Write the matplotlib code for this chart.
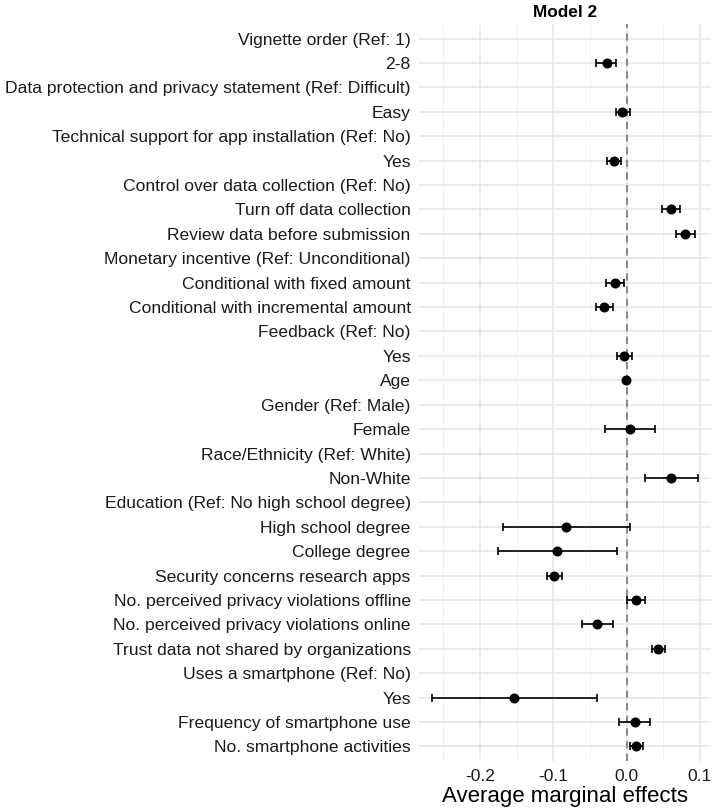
import matplotlib
matplotlib.use("Agg")
import matplotlib.pyplot as plt
import numpy as np

plt.rcParams['font.family'] = ['Liberation Sans', 'DejaVu Sans']

labels = [
    "Vignette order (Ref: 1)",
    "2-8",
    "Data protection and privacy statement (Ref: Difficult)",
    "Easy",
    "Technical support for app installation (Ref: No)",
    "Yes",
    "Control over data collection (Ref: No)",
    "Turn off data collection",
    "Review data before submission",
    "Monetary incentive (Ref: Unconditional)",
    "Conditional with fixed amount",
    "Conditional with incremental amount",
    "Feedback (Ref: No)",
    "Yes",
    "Age",
    "Gender (Ref: Male)",
    "Female",
    "Race/Ethnicity (Ref: White)",
    "Non-White",
    "Education (Ref: No high school degree)",
    "High school degree",
    "College degree",
    "Security concerns research apps",
    "No. perceived privacy violations offline",
    "No. perceived privacy violations online",
    "Trust data not shared by organizations",
    "Uses a smartphone (Ref: No)",
    "Yes",
    "Frequency of smartphone use",
    "No. smartphone activities",
]
nan = np.nan
estimate = [nan, -0.027, nan, -0.006, nan, -0.017, nan, 0.060, 0.080, nan,
            -0.016, -0.031, nan, -0.004, -0.0005, nan, 0.005, nan, 0.061, nan,
            -0.082, -0.095, -0.099, 0.013, -0.040, 0.043, nan, -0.153, 0.011, 0.013]
lower = [nan, -0.042, nan, -0.015, nan, -0.027, nan, 0.048, 0.067, nan,
         -0.028, -0.042, nan, -0.013, -0.0015, nan, -0.029, nan, 0.025, nan,
         -0.169, -0.176, -0.109, 0.001, -0.061, 0.035, nan, -0.265, -0.011, 0.005]
upper = [nan, -0.014, nan, 0.005, nan, -0.007, nan, 0.073, 0.093, nan,
         -0.004, -0.018, nan, 0.007, 0.0005, nan, 0.039, nan, 0.097, nan,
         0.005, -0.013, -0.088, 0.025, -0.019, 0.052, nan, -0.041, 0.032, 0.022]
xticks = [-0.2, -0.1, 0.0, 0.1]
xtick_labels = ["-0.2", "-0.1", "0.0", "0.1"]

W, H = 714, 811
fig = plt.figure(figsize=(W / 100, H / 100), dpi=100)
ax = fig.add_axes([419 / W, 1 - 761 / H, (711 - 419) / W, (761 - 24) / H])

n = len(labels)
y = np.arange(n)
est = np.array(estimate)
lo = np.array(lower)
hi = np.array(upper)

ax.axvline(0, color="#7f7f7f", linestyle=(0, (4, 3)), linewidth=1.3, zorder=2)
for yi, e, l, h in zip(y, est, lo, hi):
    if np.isnan(e):
        continue
    ax.errorbar([e], [yi], xerr=[[e - l], [h - e]], fmt="o", color="black",
                markersize=6.2, elinewidth=1.2, capsize=2.7, capthick=1.2, zorder=3)

data_min = np.nanmin(lo)
data_max = np.nanmax(hi)
span = data_max - data_min
ax.set_xlim(data_min - 0.05 * span, data_max + 0.05 * span)
ax.set_ylim(n - 1 + 0.6, -0.6)

ax.set_yticks(y)
ax.set_yticklabels(labels, fontsize=12.6, color="#1a1a1a")
ax.set_xticks(xticks)
ax.set_xticklabels(xtick_labels, fontsize=12.6, color="#1a1a1a")
ax.set_xticks([-0.25, -0.15, -0.05, 0.05], minor=True)
ax.tick_params(axis="both", which="both", length=0)
ax.tick_params(axis="x", pad=6)
ax.tick_params(axis="y", pad=6)

ax.grid(True, which="major", color="#e6e6e6", linewidth=1.1, zorder=0)
ax.grid(True, which="minor", axis="x", color="#f0f0f0", linewidth=0.6, zorder=0)
ax.set_axisbelow(True)
for s in ax.spines.values():
    s.set_visible(False)

ax.set_xlabel("Average marginal effects", fontsize=16, labelpad=1)
ax.set_title("Model 2", fontsize=12.4, fontweight="bold", pad=5)

fig.savefig("out.png", dpi=100)
